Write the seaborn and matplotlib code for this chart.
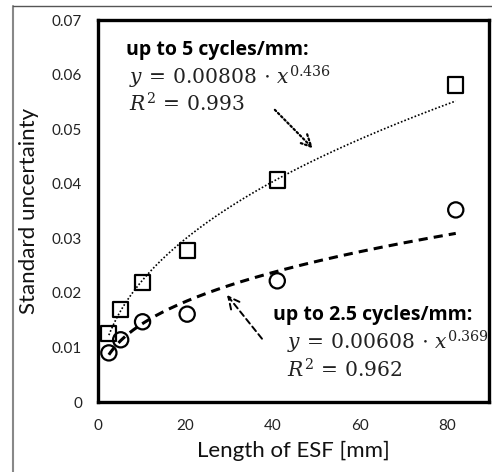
import numpy as np
import pandas as pd
import matplotlib
matplotlib.use("Agg")
import matplotlib.pyplot as plt
from matplotlib.lines import Line2D
import seaborn as sns

# ---- data ----
esf_length = [2.6, 5.3, 10.3, 20.5, 41.1, 81.9]
unc_5cyc = [0.0126, 0.0170, 0.0219, 0.0278, 0.0407, 0.0581]
unc_25cyc = [0.0090, 0.0114, 0.0147, 0.0161, 0.0222, 0.0352]
fit_5_a, fit_5_b = 0.00808, 0.436
fit_25_a, fit_25_b = 0.00608, 0.369
x_ticks = [0, 20, 40, 60, 80]
y_ticks = [0, 0.01, 0.02, 0.03, 0.04, 0.05, 0.06, 0.07]
y_tick_labels = ["0", "0.01", "0.02", "0.03", "0.04", "0.05", "0.06", "0.07"]

sns.set_theme(style="white")
plt.rcParams['font.family'] = ['Lato', 'DejaVu Sans']
plt.rcParams['mathtext.fontset'] = 'dejavuserif'

fig = plt.figure(figsize=(4.92, 4.72), dpi=100)
ax = fig.add_axes([97.5/492, (472-402)/472, (489-97.5)/492, (402-20)/472])

pts = pd.DataFrame({"x": esf_length, "y5": unc_5cyc, "y25": unc_25cyc})
xf = np.linspace(esf_length[0], esf_length[-1], 200)
fits = pd.DataFrame({"x": xf,
                     "f5": fit_5_a * xf ** fit_5_b,
                     "f25": fit_25_a * xf ** fit_25_b})

sns.lineplot(data=fits, x="x", y="f5", ax=ax, color="black", lw=1.2,
             linestyle=(0, (1, 1.2)))
sns.lineplot(data=fits, x="x", y="f25", ax=ax, color="black", lw=2.2,
             linestyle=(0, (3, 2)))
sns.scatterplot(data=pts, x="x", y="y5", ax=ax, marker="s", s=120,
                facecolor="none", edgecolor="black", linewidth=1.6, zorder=3)
sns.scatterplot(data=pts, x="x", y="y25", ax=ax, marker="o", s=120,
                facecolor="none", edgecolor="black", linewidth=1.6, zorder=3)

ax.set_xlim(0, 89.5)
ax.set_ylim(0, 0.07)
ax.set_xticks(x_ticks)
ax.set_yticks(y_ticks)
ax.set_yticklabels(y_tick_labels)
ax.tick_params(direction="in", length=4, width=2, colors="black",
               labelcolor="#222222", labelsize=11, pad=11)
ax.tick_params(axis="x", pad=12)
for s in ax.spines.values():
    s.set_linewidth(2.4)
    s.set_color("black")

ax.set_xlabel("Length of ESF [mm]", fontsize=16, color="#111111", labelpad=6)
ax.set_ylabel("Standard uncertainty", fontsize=16, color="#111111", labelpad=9)

# annotations
hdr_font = ['Open Sans', 'DejaVu Sans']
eq_kw = dict(fontsize=14.6, va="center", ha="left", color="#222222")
ax.text(6.5, 0.0645, "up to 5 cycles/mm:", fontsize=14, fontweight="bold",
        family=hdr_font, va="center", ha="left", color="black")
ax.text(7.3, 0.0594, r"$y\,=\,0.00808\,\cdot\,x^{0.436}$", **eq_kw)
ax.text(7.3, 0.0548, r"$R^2\,=\,0.993$", **eq_kw)

ax.text(40.2, 0.0160, "up to 2.5 cycles/mm:", fontsize=14, fontweight="bold",
        family=hdr_font, va="center", ha="left", color="black")
ax.text(43.3, 0.0110, r"$y\,=\,0.00608\,\cdot\,x^{0.369}$", **eq_kw)
ax.text(43.3, 0.0060, r"$R^2\,=\,0.962$", **eq_kw)

ax.annotate("", xy=(49.7, 0.0461), xytext=(40.1, 0.0539),
            arrowprops=dict(arrowstyle="->,head_length=0.7,head_width=0.35",
                            color="black", lw=1.6, linestyle=(0, (0.8, 1.2))))
ax.annotate("", xy=(29.2, 0.0200), xytext=(38.0, 0.0112),
            arrowprops=dict(arrowstyle="->,head_length=0.7,head_width=0.35",
                            color="black", lw=1.4, linestyle=(0, (3, 2))))

# outer frame (top and left only)
fig.add_artist(Line2D([12.5/492, 12.5/492], [0, 1 - 6/472], color="#888888",
                      lw=1.5, transform=fig.transFigure))
fig.add_artist(Line2D([12.5/492, 1], [1 - 6/472, 1 - 6/472], color="#555555",
                      lw=1.0, transform=fig.transFigure))

fig.savefig("out.png", dpi=100)
